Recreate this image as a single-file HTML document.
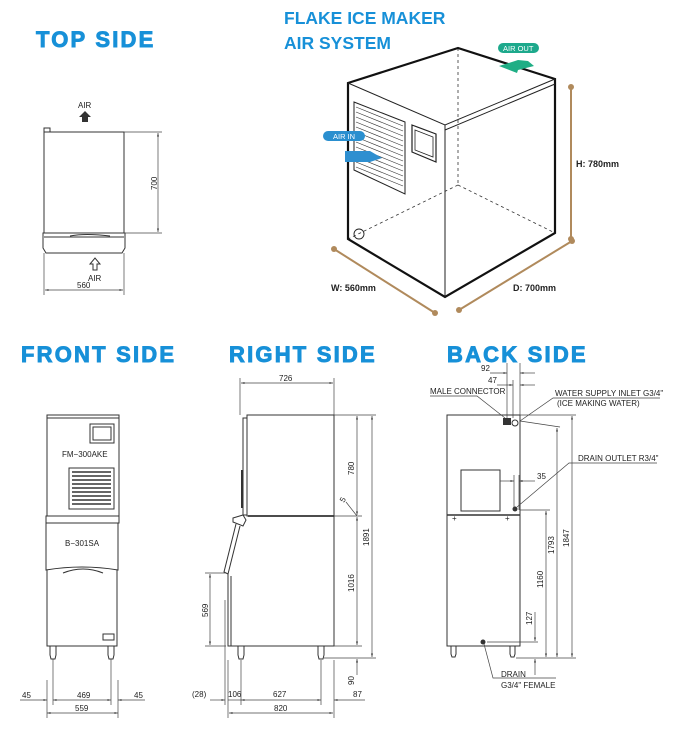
<!DOCTYPE html>
<html><head><meta charset="utf-8"><style>
html,body{margin:0;padding:0;background:#fff;}
svg{display:block;}
.h{font-family:"Liberation Sans",sans-serif;font-weight:bold;fill:#1790d8;}
.hb{stroke:#1790d8;stroke-width:0.9;}
.t{font-family:"Liberation Sans",sans-serif;font-size:8px;fill:#222;}
.d{stroke:#444;stroke-width:0.7;fill:none;}
.o{stroke:#333;stroke-width:1;fill:none;}
.k{stroke:#111;stroke-width:2.2;fill:none;}
.tan{stroke:#b08a5c;stroke-width:2;}
</style></head><body>
<svg width="677" height="729" viewBox="0 0 677 729" xmlns="http://www.w3.org/2000/svg">
<defs>
<marker id="a" viewBox="0 0 10 10" refX="10" refY="5" markerWidth="7" markerHeight="5" orient="auto-start-reverse"><path d="M0,2 L10,5 L0,8z" fill="#444"/></marker>
</defs>
<!-- headings -->
<text class="h hb" x="36" y="47" font-size="22" letter-spacing="2.2">TOP SIDE</text>
<text class="h" x="284" y="24" font-size="17.5">FLAKE ICE MAKER</text>
<text class="h" x="284" y="49" font-size="17.5">AIR SYSTEM</text>
<text class="h hb" x="21" y="362" font-size="22" letter-spacing="2.2">FRONT SIDE</text>
<text class="h hb" x="229" y="362" font-size="22" letter-spacing="2.2">RIGHT SIDE</text>
<text class="h hb" x="447" y="362" font-size="22" letter-spacing="2.2">BACK SIDE</text>

<!-- TOP SIDE -->
<text class="t" x="78" y="108" font-size="9">AIR</text>
<path d="M82,122 h6 v-5 h3 l-6,-6 l-6,6 h3z" fill="#333"/>
<rect class="o" x="44" y="132" width="80" height="101"/>
<rect class="o" x="44" y="128" width="6" height="4"/>
<path class="o" d="M43,233 h82 v15 l-3,5 h-76 l-3,-5z"/>
<line class="o" x1="44" y1="237" x2="124" y2="237"/>
<path class="o" d="M70,236 q15,-3 40,0"/>
<path class="o" d="M93,270 v-6 h-3 l5,-6 l5,6 h-3 v6z"/>
<text class="t" x="88" y="281" font-size="9">AIR</text>
<line class="d" x1="124" y1="132" x2="162" y2="132"/><line class="d" x1="124" y1="233" x2="162" y2="233"/>
<line class="d" x1="158" y1="133" x2="158" y2="232" marker-start="url(#a)" marker-end="url(#a)"/>
<text class="t" x="0" y="0" transform="translate(157,190) rotate(-90)">700</text>
<line class="d" x1="44" y1="253" x2="44" y2="295"/><line class="d" x1="124" y1="253" x2="124" y2="295"/>
<line class="d" x1="45" y1="290" x2="123" y2="290" marker-start="url(#a)" marker-end="url(#a)"/>
<text class="t" x="77" y="288">560</text>

<!-- ISO BOX -->
<path d="M458,48 L458,185 M458,185 L348,239 M458,185 L555,233" stroke="#333" stroke-width="0.8" stroke-dasharray="3,3" fill="none"/>
<path class="k" d="M348,83 L458,48 L555,79 L555,233 L445,297 L348,239 Z"/>
<path d="M348,83 L445,125 L555,79 M445,125 L445,297 M445,130 L555,84" stroke="#222" stroke-width="1" fill="none"/>
<path d="M354,102 L405,122 L405,194 L354,170 Z" fill="#fff" stroke="#222" stroke-width="1"/>
<g stroke="#333" stroke-width="0.6">
<line x1="356" y1="107" x2="403" y2="126"/><line x1="356" y1="112" x2="403" y2="131"/><line x1="356" y1="117" x2="403" y2="136"/><line x1="356" y1="122" x2="403" y2="141"/><line x1="356" y1="127" x2="403" y2="146"/><line x1="356" y1="132" x2="403" y2="151"/><line x1="356" y1="137" x2="403" y2="156"/><line x1="356" y1="142" x2="403" y2="161"/><line x1="356" y1="147" x2="403" y2="166"/><line x1="356" y1="152" x2="403" y2="171"/><line x1="356" y1="157" x2="403" y2="176"/><line x1="356" y1="162" x2="403" y2="181"/><line x1="356" y1="167" x2="403" y2="186"/>
</g>
<path d="M412,125 L436,134 L436,162 L412,152 Z" fill="none" stroke="#222" stroke-width="1.2"/>
<path d="M415,130 L433,137 L433,157 L415,150 Z" fill="none" stroke="#222" stroke-width="0.8"/>
<circle cx="359" cy="234" r="5" fill="none" stroke="#222" stroke-width="0.9"/>
<rect x="323" y="131" width="42" height="10" rx="5" fill="#2a8fcf"/>
<text x="333" y="139" font-family="Liberation Sans,sans-serif" font-size="7.5" fill="#fff">AIR IN</text>
<path d="M345,151 L370,151 L382,158 L370,162 L345,162 Z" fill="#2e8fd0"/>
<rect x="498" y="43" width="41" height="10" rx="5" fill="#1da98c"/>
<text x="503" y="51" font-family="Liberation Sans,sans-serif" font-size="7.5" fill="#fff">AIR OUT</text>
<path d="M499,66 L515,61 L518,60 L528,61 L534,66 L518,70 L517,73 Z" fill="#1fae85"/>
<line class="tan" x1="571" y1="87" x2="571" y2="239"/><circle cx="571" cy="87" r="3" fill="#b08a5c"/><circle cx="571" cy="239" r="3" fill="#b08a5c"/>
<line class="tan" x1="334" y1="249" x2="435" y2="313"/><circle cx="334" cy="249" r="3" fill="#b08a5c"/><circle cx="435" cy="313" r="3" fill="#b08a5c"/>
<line class="tan" x1="459" y1="310" x2="572" y2="241"/><circle cx="459" cy="310" r="3" fill="#b08a5c"/><circle cx="572" cy="241" r="3" fill="#b08a5c"/>
<g font-family="Liberation Sans,sans-serif" font-weight="bold" font-size="9" fill="#222">
<text x="576" y="167">H: 780mm</text><text x="331" y="291">W: 560mm</text><text x="513" y="291">D: 700mm</text>
</g>

<!-- FRONT SIDE -->
<rect class="o" x="47" y="415" width="72" height="101"/>
<line class="o" x1="47" y1="418" x2="119" y2="418"/>
<rect class="o" x="90" y="424" width="24" height="19"/><rect class="o" x="93" y="427" width="18" height="13"/>
<text class="t" x="62" y="457" font-size="8">FM−300AKE</text>
<rect class="o" x="69" y="468" width="45" height="41"/>
<g stroke="#333" stroke-width="1.6"><line x1="72" y1="472" x2="111" y2="472"/><line x1="72" y1="476" x2="111" y2="476"/><line x1="72" y1="480" x2="111" y2="480"/><line x1="72" y1="484" x2="111" y2="484"/><line x1="72" y1="488" x2="111" y2="488"/><line x1="72" y1="492" x2="111" y2="492"/><line x1="72" y1="496" x2="111" y2="496"/><line x1="72" y1="500" x2="111" y2="500"/><line x1="72" y1="504" x2="111" y2="504"/></g>
<rect class="o" x="46" y="516" width="73" height="7"/>
<path class="o" d="M46,523 v47 q36,-6 72,0 v-47"/>
<path class="o" d="M63,573 q20,-8 40,0"/>
<text class="t" x="65" y="546" font-size="8">B−301SA</text>
<path class="o" d="M47,570 v76 h70 v-76"/>
<rect class="o" x="103" y="634" width="11" height="6"/>
<path class="o" d="M50,646 h6 v9 l-1,4 h-4 l-1,-4z M108,646 h6 v9 l-1,4 h-4 l-1,-4z"/>
<line class="d" x1="53" y1="659" x2="53" y2="705"/><line class="d" x1="111" y1="659" x2="111" y2="705"/>
<line class="d" x1="47" y1="680" x2="47" y2="718"/><line class="d" x1="118" y1="680" x2="118" y2="718"/>
<line class="d" x1="20" y1="700" x2="47" y2="700" marker-end="url(#a)"/>
<line class="d" x1="53" y1="700" x2="111" y2="700" marker-start="url(#a)" marker-end="url(#a)"/>
<line class="d" x1="145" y1="700" x2="118" y2="700" marker-end="url(#a)"/>
<text class="t" x="22" y="698">45</text><text class="t" x="77" y="698">469</text><text class="t" x="134" y="698">45</text>
<line class="d" x1="47" y1="713" x2="118" y2="713" marker-start="url(#a)" marker-end="url(#a)"/>
<text class="t" x="75" y="711">559</text>

<!-- RIGHT SIDE -->
<line class="d" x1="240" y1="378" x2="240" y2="415"/><line class="d" x1="334" y1="378" x2="334" y2="415"/>
<line class="d" x1="241" y1="383" x2="333" y2="383" marker-start="url(#a)" marker-end="url(#a)"/>
<text class="t" x="279" y="381">726</text>
<path class="o" d="M247,415 h87 v101 h-87z"/>
<path class="o" d="M247,418 h-4 v97 h4"/>
<line stroke="#333" stroke-width="2" x1="242" y1="470" x2="242" y2="508"/>
<line stroke="#333" stroke-width="1.8" x1="248" y1="516" x2="334" y2="516"/>
<path class="o" d="M233,518 l10,-3 l3,5 l-3,6 l-10,-4z"/>
<path class="o" d="M236,524 l-12,48 l4,2 l12,-48"/>
<path class="o" d="M228,574 v72 h106 v-130"/>
<line class="o" x1="231" y1="576" x2="231" y2="646"/>
<path class="o" d="M238,646 h6 v9 l-1,4 h-4 l-1,-4z M318,646 h6 v9 l-1,4 h-4 l-1,-4z"/>
<line class="d" x1="334" y1="415" x2="376" y2="415"/><line class="d" x1="334" y1="516" x2="362" y2="516"/><line class="d" x1="334" y1="646" x2="362" y2="646"/><line class="d" x1="324" y1="658" x2="376" y2="658"/>
<line class="d" x1="357" y1="416" x2="357" y2="515" marker-start="url(#a)" marker-end="url(#a)"/>
<line class="d" x1="357" y1="517" x2="357" y2="645" marker-start="url(#a)" marker-end="url(#a)"/>
<line class="d" x1="357" y1="675" x2="357" y2="659" marker-end="url(#a)"/>
<line class="d" x1="372" y1="416" x2="372" y2="657" marker-start="url(#a)" marker-end="url(#a)"/>
<line class="d" x1="346" y1="502" x2="357" y2="516"/>
<text class="t" transform="translate(354,475) rotate(-90)">780</text>
<text class="t" transform="translate(344,503) rotate(-60)">5</text>
<text class="t" transform="translate(354,592) rotate(-90)">1016</text>
<text class="t" transform="translate(354,685) rotate(-90)">90</text>
<text class="t" transform="translate(369,546) rotate(-90)">1891</text>
<line class="d" x1="205" y1="573" x2="226" y2="573"/><line class="d" x1="205" y1="646" x2="226" y2="646"/>
<line class="d" x1="210" y1="574" x2="210" y2="645" marker-start="url(#a)" marker-end="url(#a)"/>
<text class="t" transform="translate(208,617) rotate(-90)">569</text>
<line class="d" x1="225" y1="600" x2="225" y2="705"/><line class="d" x1="228" y1="660" x2="228" y2="718"/><line class="d" x1="241" y1="660" x2="241" y2="705"/><line class="d" x1="321" y1="660" x2="321" y2="705"/><line class="d" x1="334" y1="660" x2="334" y2="718"/>
<line class="d" x1="210" y1="700" x2="225" y2="700" marker-end="url(#a)"/>
<line class="d" x1="228" y1="700" x2="241" y2="700"/>
<line class="d" x1="241" y1="700" x2="321" y2="700" marker-start="url(#a)" marker-end="url(#a)"/>
<line class="d" x1="365" y1="700" x2="334" y2="700" marker-end="url(#a)"/>
<text class="t" x="192" y="697">(28)</text><text class="t" x="228" y="697">106</text><text class="t" x="273" y="697">627</text><text class="t" x="353" y="697">87</text>
<line class="d" x1="229" y1="713" x2="333" y2="713" marker-start="url(#a)" marker-end="url(#a)"/>
<text class="t" x="274" y="711">820</text>

<!-- BACK SIDE -->
<path class="o" d="M447,415 h73 v231 h-73z"/>
<line stroke="#333" stroke-width="1.6" x1="447" y1="515" x2="520" y2="515"/>
<rect class="o" x="461" y="470" width="39" height="41"/>
<path class="o" d="M451,646 h5 v8 l-1,3 h-3 l-1,-3z M510,646 h5 v8 l-1,3 h-3 l-1,-3z"/>
<path d="M503,418 h8 v7 h-8z" fill="#333"/>
<circle cx="515" cy="423" r="3" class="o"/>
<circle cx="515" cy="509" r="2.5" fill="#333"/>
<circle cx="483" cy="642" r="2.5" fill="#333"/>
<text class="t" x="452" y="521" font-size="7">+</text><text class="t" x="505" y="521" font-size="7">+</text>
<line class="d" x1="507" y1="363" x2="507" y2="418"/><line class="d" x1="520" y1="363" x2="520" y2="418"/><line class="d" x1="513" y1="380" x2="513" y2="418"/>
<line class="d" x1="490" y1="373" x2="507" y2="373" marker-end="url(#a)"/><line class="d" x1="535" y1="373" x2="520" y2="373" marker-end="url(#a)"/>
<line class="d" x1="497" y1="385" x2="513" y2="385" marker-end="url(#a)"/><line class="d" x1="535" y1="385" x2="520" y2="385" marker-end="url(#a)"/>
<text class="t" x="481" y="371">92</text><text class="t" x="488" y="383">47</text>
<text class="t" x="430" y="394" font-size="7.5">MALE CONNECTOR</text>
<polyline class="d" points="430,396 477,396 505,418"/>
<text class="t" x="555" y="396" font-size="7.5">WATER SUPPLY INLET G3/4"</text>
<text class="t" x="557" y="406" font-size="7.5">(ICE MAKING WATER)</text>
<polyline class="d" points="660,398 553,398 520,421"/>
<text class="t" x="578" y="461" font-size="7.5">DRAIN OUTLET R3/4"</text>
<polyline class="d" points="657,463 569,463 517,507"/>
<line class="d" x1="500" y1="481" x2="514" y2="481" marker-end="url(#a)"/><line class="d" x1="535" y1="481" x2="519" y2="481" marker-end="url(#a)"/>
<line class="d" x1="514" y1="475" x2="514" y2="510"/><line class="d" x1="519" y1="475" x2="519" y2="510"/>
<text class="t" x="537" y="479">35</text>
<line class="d" x1="520" y1="421" x2="560" y2="427"/><line class="d" x1="520" y1="415" x2="576" y2="415"/><line class="d" x1="520" y1="510" x2="550" y2="510"/><line class="d" x1="487" y1="642" x2="538" y2="642"/><line class="d" x1="516" y1="658" x2="576" y2="658"/>
<line class="d" x1="572" y1="416" x2="572" y2="657" marker-start="url(#a)" marker-end="url(#a)"/>
<line class="d" x1="557" y1="428" x2="557" y2="657" marker-start="url(#a)" marker-end="url(#a)"/>
<line class="d" x1="546" y1="511" x2="546" y2="657" marker-start="url(#a)" marker-end="url(#a)"/>
<line class="d" x1="535" y1="612" x2="535" y2="641" marker-end="url(#a)"/><line class="d" x1="535" y1="675" x2="535" y2="659" marker-end="url(#a)"/>
<text class="t" transform="translate(569,547) rotate(-90)">1847</text>
<text class="t" transform="translate(554,554) rotate(-90)">1793</text>
<text class="t" transform="translate(543,588) rotate(-90)">1160</text>
<text class="t" transform="translate(532,625) rotate(-90)">127</text>
<polyline class="d" points="484,644 493,678 556,678"/>
<text class="t" x="501" y="677" font-size="7.5">DRAIN</text>
<text class="t" x="501" y="688" font-size="7.5">G3/4" FEMALE</text>
</svg>
</body></html>
